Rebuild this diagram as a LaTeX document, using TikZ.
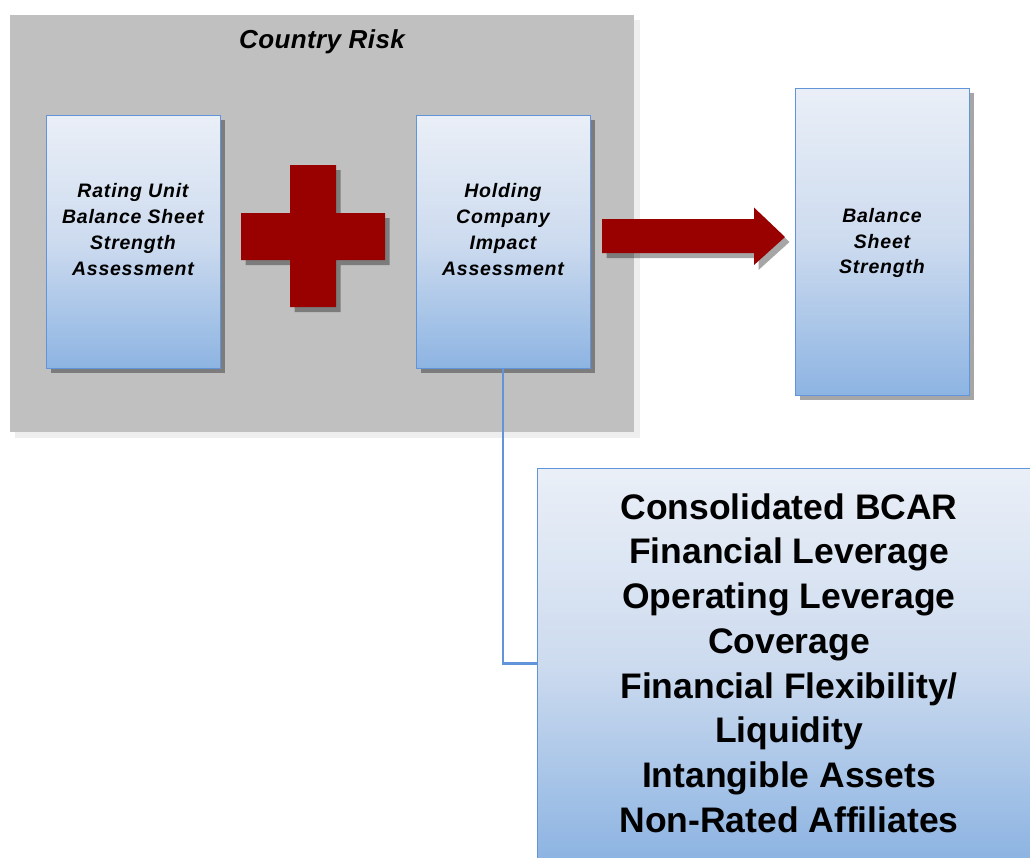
\documentclass[tikz,border=0pt]{standalone}
\usepackage{fontspec}
\setmainfont{Liberation Sans}
\newfontfamily\labelfont[LetterSpace=4]{Liberation Sans}
\newfontfamily\titlefont[LetterSpace=1.5]{Liberation Sans}
\usetikzlibrary{shadows}
\definecolor{panelgray}{RGB}{192,192,192}
\definecolor{panelshadow}{RGB}{238,238,238}
\definecolor{crossred}{RGB}{153,0,0}
\definecolor{boxline}{RGB}{98,148,218}
\definecolor{topblue}{RGB}{234,239,247}
\definecolor{midblue}{RGB}{205,219,239}
\definecolor{botblue}{RGB}{141,180,226}
\pgfdeclareverticalshading{boxshade}{100bp}{color(0bp)=(botblue); color(25bp)=(botblue); color(50bp)=(midblue); color(75bp)=(topblue); color(100bp)=(topblue)}
\tikzset{
  myshadow/.style={drop shadow={shadow xshift=4.5pt, shadow yshift=-5pt, fill=black, opacity=0.35}},
  bluebox/.style={draw=boxline, line width=1pt, shading=boxshade, rectangle, inner sep=0pt, myshadow},
  smalltxt/.style={font=\labelfont\fontsize{19.5}{25.7}\selectfont\bfseries\itshape, align=center, inner sep=0pt},
  bigtxt/.style={font=\fontsize{35.5}{44.7}\selectfont\bfseries, align=center, inner sep=0pt},
  redshape/.style={fill=crossred, draw=none, myshadow},
  conn/.style={draw=boxline, line width=2.5pt}
}
\begin{document}
\begin{tikzpicture}[x=1pt,y=-1pt]
\useasboundingbox (0,0) rectangle (1030,857);
\clip (0,0) rectangle (1030,857);
% panel
\fill[panelshadow] (15,20) rectangle (640,438);
\node[fill=panelgray, inner sep=0pt, minimum width=624pt, minimum height=417pt, anchor=north west] (panel) at (10,15) {};
\node[font=\titlefont\fontsize{26}{30}\selectfont\bfseries\itshape, inner sep=0pt] (title) at (322,42) {Country Risk};
% boxes
\node[bluebox, minimum width=174pt, minimum height=253pt] (box1) at (133,241.5) {};
\node[smalltxt] (t1) at (133,229.5) {Rating Unit\\Balance Sheet\\Strength\\Assessment};
\node[bluebox, minimum width=174pt, minimum height=253pt] (box2) at (503,241.5) {};
\node[smalltxt] (t2) at (503,229.5) {Holding\\Company\\Impact\\Assessment};
\node[bluebox, minimum width=174pt, minimum height=307pt] (box3) at (882,241.5) {};
\node[smalltxt] (t3) at (882,243) {Balance\\Sheet\\Strength};
% cross
\path[redshape] (290,165) -- (336,165) -- (336,213) -- (385,213) -- (385,260) -- (336,260) -- (336,307) -- (290,307) -- (290,260) -- (241,260) -- (241,213) -- (290,213) -- cycle;
% arrow
\path[redshape] (602,219) -- (754,219) -- (754,207.5) -- (785,237) -- (754,265) -- (754,253) -- (602,253) -- cycle;
% big box
\node[bluebox, minimum width=503pt, minimum height=390pt, anchor=north west] (big) at (537,468) {};
\node[bigtxt] (tb) at (789,663) {Consolidated BCAR\\Financial Leverage\\Operating Leverage\\Coverage\\Financial Flexibility/\\Liquidity\\Intangible Assets\\Non-Rated Affiliates};
% connector
\draw[conn] (box2.south) |- (big.west);
\end{tikzpicture}
\end{document}
